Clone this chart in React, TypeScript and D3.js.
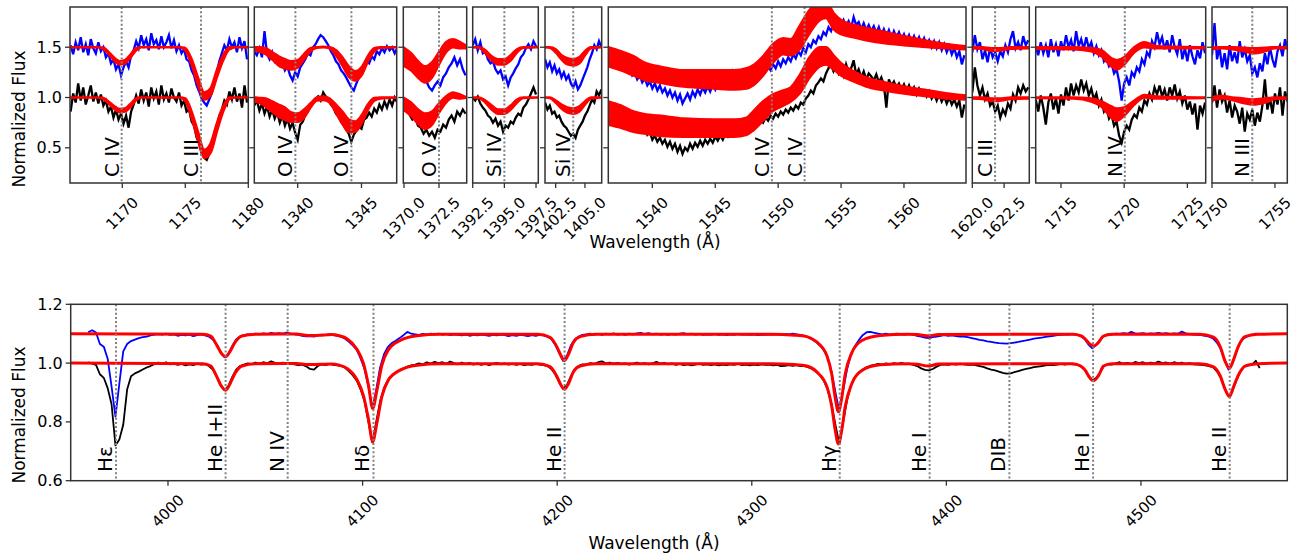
import React from 'react';
import * as d3 from 'd3';

// ================= DATA =================
const TOP_STEP = 0.2;

// Panel 1 : C IV / C III
const p1Start = 1165.9;
const p1Black = [0.86,1.04,0.95,1.14,0.97,1.10,0.93,1.02,1.12,0.96, 1.05,0.94,1.03,0.92,0.97,0.86,0.91,0.80,0.88,0.78, 0.84,0.74,0.82,0.70,0.86,0.93,1.02,0.94,1.08,0.97, 1.05,0.91,1.10,0.99,1.06,0.93,1.12,0.98,1.04,0.95, 1.09,1.00,0.96,1.05,0.92,0.97,0.86,0.88,0.76,0.72, 0.60,0.55,0.45,0.40,0.38,0.44,0.50,0.62,0.70,0.82, 0.88,0.97,0.93,1.06,0.98,1.10,0.96,1.04,0.90,1.12, 0.95];
const p1Blue = [1.52,1.43,1.55,1.47,1.60,1.45,1.53,1.42,1.58,1.49, 1.44,1.55,1.46,1.50,1.40,1.44,1.34,1.38,1.28,1.33, 1.22,1.30,1.36,1.30,1.42,1.47,1.56,1.49,1.62,1.52, 1.58,1.47,1.64,1.53,1.57,1.48,1.61,1.50,1.55,1.62, 1.49,1.57,1.46,1.52,1.44,1.48,1.38,1.36,1.27,1.22, 1.12,1.06,0.99,0.95,0.92,0.98,1.04,1.15,1.25,1.36, 1.44,1.52,1.47,1.58,1.50,1.55,1.45,1.60,1.49,1.56, 1.38];
const p1RedLam = [1165.85,1168.0,1168.5,1169.0,1169.5,1169.8,1170.2,1170.6,1171.1,1171.5,1174.6,1175.0,1175.5,1176.0,1176.5,1177.0,1177.5,1178.0,1178.5,1179.0,1180.0];
const p1RedBlackLo = [1.0,1.0,0.985,0.93,0.875,0.855,0.86,0.90,0.975,1.0,1.0,0.965,0.80,0.58,0.40,0.45,0.66,0.86,0.985,1.0,1.0];
const p1RedBlackHi = [1.0,1.0,0.995,0.95,0.90,0.885,0.89,0.93,0.99,1.0,1.0,0.99,0.86,0.66,0.48,0.54,0.74,0.91,1.0,1.0,1.0];
const p1RedBlueLo = [1.5,1.5,1.485,1.42,1.35,1.33,1.34,1.39,1.47,1.5,1.5,1.47,1.33,1.13,0.98,1.02,1.20,1.37,1.48,1.5,1.5];
const p1RedBlueHi = [1.5,1.5,1.495,1.44,1.38,1.36,1.37,1.42,1.49,1.5,1.5,1.49,1.38,1.20,1.05,1.09,1.27,1.42,1.5,1.5,1.5];
const p1LineLam = [1169.95, 1176.25];
const p1LineLab = ['C IV', 'C III'];
const p1Ticks = [1170, 1175, 1180];

// Panel 2 : O IV
const p2Start = 1336.6;
const p2Black = [0.92,0.97,0.87,0.94,0.84,0.91,0.81,0.88,0.79,0.85, 0.75,0.82,0.72,0.79,0.69,0.75,0.65,0.58,0.73,0.76, 0.83,0.86,0.91,0.94,0.98,1.01,0.97,1.05,1.01,0.98, 0.93,0.90,0.84,0.81,0.76,0.73,0.68,0.64,0.56,0.63, 0.67,0.71,0.69,0.78,0.80,0.85,0.81,0.89,0.85,0.93, 0.88,0.96,0.90,0.98,0.92,1.00,0.95];
const p2Blue = [1.46,1.42,1.49,1.40,1.66,1.43,1.38,1.45,1.36,1.40, 1.32,1.35,1.27,1.31,1.22,1.17,1.25,1.21,1.30,1.34, 1.38,1.44,1.42,1.50,1.53,1.58,1.62,1.60,1.56,1.52, 1.46,1.42,1.36,1.33,1.27,1.24,1.20,1.15,1.10,1.07, 1.14,1.20,1.25,1.30,1.36,1.34,1.41,1.38,1.46,1.43, 1.49,1.45,1.51,1.47,1.50,1.44,1.49];
const p2RedLam = [1336.6,1337.0,1337.5,1338.0,1338.5,1339.0,1339.5,1340.0,1340.5,1341.0,1341.5,1342.0,1342.5,1343.0,1343.5,1344.0,1344.5,1345.0,1345.5,1346.0,1346.5,1347.8];
const p2RedBlackLo = [0.96,0.95,0.91,0.86,0.81,0.78,0.76,0.76,0.80,0.90,0.97,0.975,0.95,0.85,0.74,0.66,0.66,0.74,0.88,0.97,0.99,1.0];
const p2RedBlackHi = [1.0,0.995,0.99,0.96,0.93,0.90,0.85,0.84,0.88,0.94,1.0,1.01,0.99,0.93,0.86,0.78,0.76,0.82,0.93,0.995,1.0,1.0];
const p2RedBlueLo = [1.47,1.46,1.43,1.38,1.32,1.29,1.28,1.30,1.38,1.46,1.495,1.5,1.49,1.42,1.32,1.21,1.17,1.22,1.36,1.46,1.495,1.5];
const p2RedBlueHi = [1.5,1.5,1.49,1.45,1.41,1.38,1.36,1.37,1.43,1.49,1.5,1.505,1.5,1.47,1.40,1.31,1.26,1.30,1.41,1.49,1.5,1.5];
const p2LineLam = [1339.82, 1344.21];
const p2LineLab = ['O IV', 'O IV'];
const p2Ticks = [1340, 1345];

// Panel 3 : O V
const p3Start = 1370.0;
const p3Black = [0.92,0.86,0.83,0.78,0.80,0.72,0.70,0.64,0.68,0.62,0.66,0.60,0.68,0.66,0.73,0.70,0.78,0.82,0.76,0.86,0.82,0.88,0.84];
const p3Blue = [1.37,1.32,1.34,1.28,1.30,1.25,1.27,1.20,1.16,1.10,1.07,1.12,1.16,1.12,1.20,1.24,1.30,1.34,1.40,1.32,1.38,1.28,1.22];
const p3RedLam = [1369.95,1370.5,1371.0,1371.5,1372.0,1372.5,1373.0,1373.5,1374.0,1374.48];
const p3RedBlackLo = [0.88,0.82,0.74,0.69,0.73,0.85,0.95,1.0,0.99,1.0];
const p3RedBlackHi = [1.0,0.95,0.88,0.84,0.86,0.94,1.01,1.05,1.03,1.0];
const p3RedBlueLo = [1.32,1.27,1.20,1.15,1.20,1.33,1.45,1.50,1.49,1.49];
const p3RedBlueHi = [1.50,1.44,1.36,1.31,1.35,1.45,1.55,1.58,1.55,1.51];
const p3LineLam = [1372.5];
const p3LineLab = ['O V'];
const p3Ticks = [1370.0, 1372.5];

// Panel 4 : Si IV 1394
const p4Start = 1392.5;
const p4Black = [1.0,0.97,1.01,0.94,0.90,0.87,0.82,0.80,0.75,0.79,0.72,0.76,0.66,0.72,0.70,0.76,0.74,0.80,0.84,0.82,0.90,0.93,0.98,1.04,1.10,1.03];
const p4Blue = [1.52,1.58,1.47,1.55,1.44,1.46,1.38,1.34,1.36,1.28,1.24,1.27,1.18,1.21,1.12,1.20,1.24,1.29,1.33,1.40,1.43,1.49,1.53,1.48,1.56,1.51];
const p4RedLam = [1392.5,1393.0,1393.5,1394.0,1394.5,1395.0,1395.5,1396.0,1396.5,1397.68];
const p4RedBlackLo = [1.0,0.995,0.95,0.88,0.84,0.84,0.88,0.95,0.995,1.0];
const p4RedBlackHi = [1.0,1.0,0.97,0.92,0.88,0.88,0.92,0.98,1.0,1.0];
const p4RedBlueLo = [1.5,1.495,1.44,1.37,1.33,1.33,1.37,1.45,1.495,1.5];
const p4RedBlueHi = [1.5,1.5,1.47,1.41,1.38,1.38,1.42,1.48,1.5,1.5];
const p4LineLam = [1395.0];
const p4LineLab = ['Si IV'];
const p4Ticks = [1392.5, 1395.0, 1397.5];

// Panel 5 : Si IV 1403
const p5Start = 1401.6;
const p5Black = [0.95,0.88,0.92,0.84,0.86,0.80,0.82,0.76,0.72,0.70,0.66,0.62,0.64,0.60,0.68,0.72,0.76,0.82,0.86,0.92,0.98,0.95,1.06,1.02,1.08];
const p5Blue = [1.38,1.30,1.35,1.26,1.32,1.24,1.28,1.20,1.25,1.18,1.22,1.14,1.10,1.16,1.08,1.12,1.18,1.24,1.30,1.38,1.44,1.52,1.48,1.56,1.50];
const p5RedLam = [1401.59,1402.0,1402.5,1403.0,1403.5,1404.0,1404.5,1405.0,1405.5,1406.43];
const p5RedBlackLo = [1.0,0.995,0.95,0.89,0.85,0.84,0.86,0.93,0.99,1.0];
const p5RedBlackHi = [1.0,1.0,0.97,0.93,0.90,0.89,0.91,0.96,1.0,1.0];
const p5RedBlueLo = [1.5,1.495,1.45,1.38,1.33,1.32,1.34,1.42,1.49,1.5];
const p5RedBlueHi = [1.5,1.5,1.48,1.42,1.39,1.38,1.40,1.46,1.5,1.5];
const p5LineLam = [1404.0];
const p5LineLab = ['Si IV'];
const p5Ticks = [1402.5, 1405.0];

// Panel 6 : C IV doublet
const p6Start = 1536.6;
const p6Black = [0.95,0.89,0.93,0.86,0.90, 0.82,0.86,0.79,0.83,0.76, 0.78,0.71,0.74,0.67,0.70, 0.63,0.66,0.58,0.62,0.56, 0.60,0.54,0.58,0.51,0.56, 0.49,0.54,0.46,0.52,0.44, 0.50,0.47,0.54,0.49,0.55, 0.51,0.57,0.52,0.58,0.54, 0.59,0.55,0.61,0.57,0.62, 0.58,0.64,0.61,0.66,0.63, 0.69,0.65,0.71,0.67,0.72, 0.69,0.74,0.71,0.76,0.73, 0.78,0.75,0.80,0.77,0.82, 0.79,0.84,0.81,0.86,0.83, 0.88,0.85,0.90,0.87,0.92, 0.89,0.95,0.93,0.99,1.02, 1.07,1.04,1.12,1.15,1.19, 1.16,1.24,1.29,1.33,1.26, 1.31,1.24,1.30,1.22,1.33, 1.25,1.29,1.37,1.23,1.28, 1.20,1.26,1.18,1.24,1.21, 1.17,1.23,1.15,1.20,1.13, 0.90,1.18,1.12,1.16,1.10, 1.14,1.08,1.13,1.06,1.12, 1.05,1.10,1.03,1.09,1.04, 1.07,1.01,1.06,0.99,1.04, 0.97,1.03,0.96,1.01,0.94, 1.00,0.93,0.98,0.91,0.97, 0.80,0.93];
const p6Blue = [1.42,1.38,1.41,1.35,1.37, 1.31,1.34,1.27,1.29,1.22, 1.25,1.18,1.22,1.15,1.19, 1.12,1.16,1.09,1.14,1.07, 1.12,1.05,1.09,1.02,1.07, 1.00,1.05,0.97,1.03,0.94, 0.99,1.04,0.98,1.06,1.01, 1.08,1.03,1.10,1.05,1.11, 1.06,1.13,1.08,1.15,1.10, 1.16,1.12,1.19,1.14,1.25, 1.17,1.22,1.18,1.24,1.19, 1.25,1.21,1.27,1.23,1.28, 1.24,1.30,1.26,1.31,1.27, 1.33,1.29,1.36,1.31,1.38, 1.34,1.40,1.36,1.43,1.39, 1.46,1.42,1.49,1.45,1.53, 1.50,1.57,1.54,1.61,1.58, 1.65,1.62,1.70,1.66,1.74, 1.68,1.75,1.70,1.77,1.71, 1.76,1.69,1.80,1.72,1.75, 1.68,1.74,1.67,1.72,1.66, 1.71,1.64,1.70,1.62,1.68, 1.61,1.67,1.59,1.66,1.60, 1.65,1.58,1.63,1.56,1.62, 1.55,1.61,1.54,1.60,1.53, 1.59,1.52,1.57,1.50,1.56, 1.49,1.55,1.47,1.53,1.45, 1.51,1.43,1.49,1.40,1.46, 1.33,1.42];
const p6RedLam = [1536.5,1537.5,1538.5,1539.5,1540.5,1542.5,1545.0,1546.5,1547.5,1548.0,1548.8,1549.6,1550.4,1551.0,1551.7,1552.5,1553.3,1553.8,1554.4,1555.0,1556.0,1557.0,1558.5,1560.0,1562.0,1563.5,1564.93];
const p6RedBlackLo = [0.73,0.70,0.66,0.64,0.62,0.61,0.61,0.61,0.63,0.67,0.77,0.87,0.92,0.96,1.04,1.20,1.31,1.33,1.28,1.22,1.16,1.11,1.07,1.04,1.01,0.99,0.98];
const p6RedBlackHi = [0.96,0.92,0.86,0.83,0.82,0.79,0.78,0.78,0.80,0.86,0.96,1.03,1.07,1.10,1.22,1.40,1.50,1.50,1.42,1.34,1.26,1.20,1.15,1.11,1.07,1.04,1.02];
const p6RedBlueLo = [1.31,1.27,1.22,1.17,1.15,1.11,1.09,1.08,1.09,1.12,1.22,1.35,1.43,1.42,1.48,1.64,1.77,1.79,1.68,1.63,1.60,1.57,1.54,1.52,1.50,1.49,1.48];
const p6RedBlueHi = [1.50,1.46,1.41,1.34,1.31,1.27,1.27,1.27,1.29,1.32,1.41,1.53,1.59,1.58,1.71,1.87,1.96,1.96,1.84,1.77,1.72,1.69,1.65,1.61,1.56,1.53,1.51];
const p6LineLam = [1549.5, 1552.1];
const p6LineLab = ['C IV', 'C IV'];
const p6Ticks = [1540, 1545, 1550, 1555, 1560];

// Panel 7 : C III 1620
const p7Start = 1620.0;
const p7Black = [1.05,1.30,1.12,1.02,1.10,0.98,1.04,0.92,0.96,0.86,0.92,0.80,0.88,0.83,0.94,0.89,1.03,0.97,1.10,1.04,1.12,1.06,1.10];
const p7Blue = [1.45,1.62,1.48,1.55,1.38,1.47,1.35,1.50,1.40,1.45,1.36,1.46,1.41,1.52,1.45,1.58,1.66,1.49,1.55,1.47,1.61,1.52,1.57];
const p7RedLam = [1620.0,1620.8,1621.5,1622.3,1623.0,1624.48];
const p7RedBlackLo = [0.99,0.985,0.965,0.97,0.985,0.99];
const p7RedBlackHi = [1.0,1.0,0.99,0.99,1.0,1.0];
const p7RedBlueLo = [1.49,1.485,1.465,1.47,1.485,1.49];
const p7RedBlueHi = [1.5,1.5,1.49,1.49,1.5,1.5];
const p7LineLam = [1621.79];
const p7LineLab = ['C III'];
const p7Ticks = [1620.0, 1622.5];

// Panel 8 : N IV
const p8Start = 1713.0;
const p8Black = [0.98,0.86,1.02,0.90,0.73, 0.95,1.04,0.88,0.99,0.84, 1.03,0.92,1.10,0.97,1.14, 1.02,1.12,1.05,1.18,1.07, 1.14,1.02,1.09,0.98,1.04, 0.92,0.98,0.86,0.90,0.79, 0.83,0.72,0.76,0.62,0.55, 0.66,0.72,0.68,0.78,0.83, 0.80,0.90,0.86,0.97,0.93, 1.04,0.98,1.10,1.03,1.12, 1.01,1.08,0.97,1.10,1.02, 1.13,0.99,1.06,0.94,1.02, 0.88,0.96,0.83,0.94,0.68, 0.92,0.84,0.95];
const p8Blue = [1.50,1.42,1.55,1.44,1.52, 1.40,1.58,1.45,1.53,1.41, 1.56,1.47,1.62,1.50,1.57, 1.46,1.66,1.51,1.58,1.48, 1.60,1.49,1.55,1.44,1.51, 1.42,1.47,1.36,1.40,1.31, 1.34,1.24,1.28,1.16,0.97, 1.14,1.20,1.12,1.25,1.21, 1.30,1.26,1.38,1.33,1.45, 1.41,1.56,1.50,1.65,1.53, 1.60,1.48,1.57,1.45,1.62, 1.50,1.43,1.58,1.38,1.49, 1.36,1.52,1.41,1.33,1.47, 1.39,1.55,1.44];
const p8RedLam = [1713.0,1716.0,1717.4,1718.2,1719.0,1719.4,1720.0,1720.8,1721.6,1722.6,1726.45];
const p8RedBlackLo = [0.995,0.99,0.96,0.91,0.80,0.77,0.82,0.93,1.0,0.99,0.995];
const p8RedBlackHi = [1.0,1.0,0.99,0.96,0.91,0.89,0.90,0.97,1.025,1.01,1.0];
const p8RedBlueLo = [1.485,1.48,1.46,1.41,1.31,1.28,1.33,1.45,1.50,1.49,1.49];
const p8RedBlueHi = [1.5,1.5,1.49,1.47,1.39,1.37,1.40,1.50,1.55,1.51,1.5];
const p8LineLam = [1720.05];
const p8LineLab = ['N IV'];
const p8Ticks = [1715, 1720, 1725];

// Panel 9 : N III
const p9Start = 1750.0;
const p9Black = [0.95,1.12,0.90,1.08,0.96,1.02,0.85,0.97,0.80,0.92,0.86,0.74,0.90,0.66,0.84,0.78,0.88,0.72,0.85,0.76,0.92,1.18,0.88,1.00,0.84,1.04,0.93,1.10,0.82,1.06,0.96];
const p9Blue = [1.42,1.74,1.38,1.50,1.30,1.44,1.28,1.52,1.36,1.45,1.34,1.56,1.40,1.48,1.36,1.42,1.24,1.30,1.20,1.34,1.26,1.44,1.33,1.50,1.38,1.30,1.46,1.52,1.41,1.58,1.48];
const p9RedLam = [1750.0,1750.8,1751.6,1752.5,1753.3,1754.2,1755.0,1755.98];
const p9RedBlackLo = [0.97,0.99,0.975,0.945,0.93,0.95,0.985,0.99];
const p9RedBlackHi = [1.0,1.015,1.0,0.99,0.98,0.99,1.0,1.0];
const p9RedBlueLo = [1.48,1.49,1.48,1.46,1.44,1.46,1.49,1.49];
const p9RedBlueHi = [1.5,1.5,1.5,1.495,1.49,1.495,1.5,1.5];
const p9LineLam = [1753.2];
const p9LineLab = ['N III'];
const p9Ticks = [1750, 1755];

const topYTicks = [0.5, 1.0, 1.5];

// Optical panel
const optStart = 3959;
const optStep = 2;
const optBlack = [
  1.003,0.998,0.994,0.962,0.95,0.915,0.86,0.72,0.74,0.79,
  0.91,0.955,0.965,0.971,0.978,0.985,0.99,0.996,1.002,0.997,
  1.003,0.996,0.999,0.994,0.997,0.992,0.996,0.993,0.998,0.995,
  0.996,0.99,0.978,0.955,0.925,0.908,0.922,0.952,0.978,0.99,
  0.995,0.999,0.997,1.002,0.998,1.003,0.999,1.006,1.001,0.998,
  1.002,0.997,1.0,0.996,0.993,0.995,0.989,0.98,0.978,0.99,
  0.996,0.993,0.997,0.994,0.992,0.99,0.984,0.972,0.958,0.94,
  0.91,0.87,0.80,0.73,0.80,0.87,0.915,0.943,0.958,0.968,
  0.976,0.982,0.988,0.992,0.995,0.999,0.996,1.003,0.998,1.004,
  1.0,1.003,0.998,1.005,1.0,0.996,1.002,0.997,1.001,0.995,
  0.999,0.994,0.998,0.993,0.997,1.001,0.996,0.999,0.995,0.998,
  0.994,0.997,0.993,0.996,0.994,0.997,0.995,0.993,0.99,0.98,
  0.962,0.935,0.912,0.925,0.955,0.978,0.99,0.996,0.995,1.0,
  0.997,1.003,1.006,0.999,1.002,0.998,1.001,0.997,0.999,0.995,
  0.998,1.002,0.997,1.0,0.996,0.999,1.004,0.998,1.001,0.996,
  0.999,0.994,0.997,0.993,0.996,0.992,0.995,0.998,0.994,0.996,
  0.993,0.996,0.992,0.995,0.993,0.996,0.994,0.997,0.993,0.995,
  0.992,0.995,0.993,0.996,0.994,0.995,0.992,0.994,0.99,0.991,
  0.993,0.991,0.993,0.99,0.99,0.986,0.98,0.972,0.958,0.94,
  0.91,0.86,0.79,0.725,0.80,0.875,0.925,0.952,0.968,0.978,
  0.986,0.991,0.994,0.997,0.995,0.999,0.996,1.0,0.997,1.001,
  0.996,0.998,0.994,0.99,0.982,0.977,0.975,0.98,0.988,0.994,
  0.996,0.994,0.997,0.995,0.998,0.996,0.994,0.995,0.993,0.99,
  0.987,0.982,0.978,0.975,0.971,0.967,0.964,0.965,0.969,0.973,
  0.977,0.98,0.983,0.986,0.988,0.99,0.992,0.994,0.993,0.995,
  0.997,0.995,0.998,0.996,0.995,0.99,0.978,0.957,0.94,0.95,
  0.968,0.99,0.996,0.995,0.999,1.003,0.998,1.001,0.997,1.004,
  1.0,1.003,0.998,1.002,0.999,1.005,1.0,1.002,0.998,1.003,
  0.999,1.002,0.997,1.0,0.996,0.995,0.994,0.992,0.99,0.986,
  0.972,0.95,0.915,0.888,0.905,0.94,0.97,0.988,0.995,0.994,
  1.008,0.983];
const optBlue = [
  1.105,1.112,1.104,1.065,1.056,1.015,0.92,0.818,0.93,1.04,
  1.065,1.075,1.08,1.085,1.088,1.09,1.094,1.097,1.099,1.097,
  1.1,1.096,1.098,1.093,1.096,1.094,1.097,1.092,1.095,1.098,
  1.094,1.09,1.08,1.062,1.038,1.02,1.032,1.058,1.08,1.09,
  1.095,1.098,1.097,1.1,1.098,1.101,1.099,1.103,1.1,1.102,
  1.1,1.104,1.1,1.098,1.096,1.093,1.091,1.092,1.09,1.094,
  1.097,1.095,1.098,1.095,1.093,1.09,1.083,1.072,1.06,1.045,
  1.015,0.98,0.92,0.845,0.91,0.985,1.03,1.055,1.068,1.076,
  1.085,1.095,1.106,1.1,1.098,1.096,1.099,1.097,1.1,1.098,
  1.1,1.097,1.099,1.095,1.098,1.096,1.094,1.097,1.093,1.096,
  1.094,1.097,1.095,1.093,1.096,1.094,1.097,1.095,1.092,1.095,
  1.093,1.096,1.094,1.092,1.095,1.093,1.096,1.094,1.09,1.082,
  1.062,1.035,1.008,1.025,1.06,1.08,1.09,1.096,1.098,1.1,
  1.097,1.099,1.096,1.1,1.098,1.101,1.097,1.099,1.096,1.1,
  1.098,1.101,1.103,1.099,1.102,1.098,1.1,1.097,1.099,1.096,
  1.099,1.097,1.1,1.102,1.098,1.1,1.097,1.099,1.096,1.098,
  1.097,1.099,1.096,1.098,1.095,1.098,1.096,1.099,1.097,1.098,
  1.096,1.098,1.095,1.097,1.096,1.098,1.097,1.099,1.097,1.099,
  1.098,1.1,1.098,1.096,1.093,1.088,1.08,1.072,1.06,1.045,
  1.02,0.97,0.9,0.835,0.91,0.98,1.03,1.058,1.078,1.095,
  1.105,1.106,1.103,1.1,1.098,1.1,1.097,1.099,1.1,1.098,
  1.097,1.099,1.096,1.093,1.09,1.087,1.085,1.088,1.09,1.093,
  1.095,1.093,1.094,1.092,1.09,1.09,1.088,1.085,1.082,1.079,
  1.077,1.074,1.072,1.07,1.068,1.067,1.066,1.068,1.07,1.072,
  1.075,1.077,1.08,1.083,1.085,1.087,1.089,1.091,1.093,1.095,
  1.096,1.098,1.097,1.099,1.097,1.093,1.082,1.063,1.05,1.062,
  1.08,1.093,1.098,1.097,1.1,1.099,1.102,1.1,1.106,1.101,
  1.1,1.102,1.099,1.101,1.1,1.103,1.1,1.102,1.099,1.101,
  1.1,1.107,1.101,1.099,1.097,1.096,1.095,1.093,1.09,1.084,
  1.07,1.048,1.01,0.978,1.0,1.04,1.07,1.085,1.092,1.096,
  1.1,1.098];
const optRedLam = [3950,4018,4022,4025,4027.6,4029.7,4031.9,4034.4,4038,4045,4066,4072,4078,4084,4088,4092,4097,4100.4,4103,4105.2,4107.3,4109.9,4113.2,4119.3,4128,4140,4190,4196.3,4199.8,4202.2,4203.7,4205.8,4208.3,4211.8,4220,4310,4322,4328.3,4333.4,4338.6,4341.1,4342.8,4344.5,4346.3,4348,4351.4,4356.6,4366,4380,4385,4391,4396,4465,4469,4471.4,4473.5,4475.6,4478.2,4480.7,4485,4530,4537.3,4540.7,4543.3,4545.5,4547.5,4550.1,4553.5,4560,4575.2];
const optRedBlack = [1.0,0.998,0.99,0.955,0.92,0.908,0.93,0.965,0.99,0.998,0.999,0.995,0.996,0.997,0.993,0.982,0.945,0.89,0.81,0.733,0.795,0.886,0.942,0.976,0.993,0.998,0.998,0.988,0.955,0.922,0.911,0.93,0.97,0.99,0.998,0.998,0.995,0.99,0.97,0.92,0.852,0.775,0.725,0.775,0.852,0.93,0.975,0.994,0.998,0.996,0.99,0.997,0.998,0.99,0.975,0.952,0.94,0.957,0.99,0.998,0.998,0.987,0.957,0.91,0.886,0.918,0.96,0.99,0.998,1.0];
const optRedBlue = [1.1,1.098,1.092,1.062,1.032,1.022,1.04,1.07,1.092,1.098,1.099,1.094,1.095,1.097,1.093,1.083,1.048,1.0,0.925,0.846,0.905,0.992,1.045,1.077,1.093,1.098,1.098,1.088,1.056,1.022,1.008,1.03,1.07,1.09,1.098,1.098,1.095,1.09,1.072,1.025,0.962,0.885,0.835,0.885,0.962,1.035,1.077,1.094,1.098,1.097,1.093,1.097,1.098,1.093,1.082,1.066,1.058,1.07,1.092,1.098,1.098,1.088,1.056,1.005,0.982,1.01,1.058,1.09,1.098,1.1];
const optLineLam = [3973.3, 4029.6, 4061.5, 4105.6, 4203.8, 4345.2, 4391.4, 4432.4, 4475.4, 4545.6];
const optLineLab = ['Hε', 'He I+II', 'N IV', 'Hδ', 'He II', 'Hγ', 'He I', 'DIB', 'He I', 'He II'];
const optXTicks = [4000, 4100, 4200, 4300, 4400, 4500];
const optYTicks = [0.6, 0.8, 1.0, 1.2];

// ================= LAYOUT =================
const FONT = 'DejaVu Sans';
const TOP_Y0 = 7, TOP_Y1 = 183;
const TOP_YD: [number, number] = [0.15, 1.9];
const BOT_Y0 = 304.3, BOT_Y1 = 480.7;
const BOT_YD: [number, number] = [0.6, 1.2];
const BOT_X0 = 70.7, BOT_X1 = 1287.3;
const BOT_XD: [number, number] = [3950, 4575.2];

const topPanels = [
  { x0: 70, x1: 248.3, lam: [1165.85, 1180.0], dec: 0, start: p1Start, black: p1Black, blue: p1Blue, redLam: p1RedLam, rbl: p1RedBlackLo, rbh: p1RedBlackHi, rul: p1RedBlueLo, ruh: p1RedBlueHi, lines: p1LineLam, labs: p1LineLab, ticks: p1Ticks },
  { x0: 254.3, x1: 396.7, lam: [1336.6, 1347.76], dec: 0, start: p2Start, black: p2Black, blue: p2Blue, redLam: p2RedLam, rbl: p2RedBlackLo, rbh: p2RedBlackHi, rul: p2RedBlueLo, ruh: p2RedBlueHi, lines: p2LineLam, labs: p2LineLab, ticks: p2Ticks },
  { x0: 403.3, x1: 466.7, lam: [1369.95, 1374.48], dec: 1, start: p3Start, black: p3Black, blue: p3Blue, redLam: p3RedLam, rbl: p3RedBlackLo, rbh: p3RedBlackHi, rul: p3RedBlueLo, ruh: p3RedBlueHi, lines: p3LineLam, labs: p3LineLab, ticks: p3Ticks },
  { x0: 472.7, x1: 538.3, lam: [1392.5, 1397.68], dec: 1, start: p4Start, black: p4Black, blue: p4Blue, redLam: p4RedLam, rbl: p4RedBlackLo, rbh: p4RedBlackHi, rul: p4RedBlueLo, ruh: p4RedBlueHi, lines: p4LineLam, labs: p4LineLab, ticks: p4Ticks },
  { x0: 545, x1: 601.7, lam: [1401.59, 1406.43], dec: 1, start: p5Start, black: p5Black, blue: p5Blue, redLam: p5RedLam, rbl: p5RedBlackLo, rbh: p5RedBlackHi, rul: p5RedBlueLo, ruh: p5RedBlueHi, lines: p5LineLam, labs: p5LineLab, ticks: p5Ticks },
  { x0: 608.3, x1: 966, lam: [1536.5, 1564.93], dec: 0, start: p6Start, black: p6Black, blue: p6Blue, redLam: p6RedLam, rbl: p6RedBlackLo, rbh: p6RedBlackHi, rul: p6RedBlueLo, ruh: p6RedBlueHi, lines: p6LineLam, labs: p6LineLab, ticks: p6Ticks },
  { x0: 972.3, x1: 1029.3, lam: [1620.0, 1624.48], dec: 1, start: p7Start, black: p7Black, blue: p7Blue, redLam: p7RedLam, rbl: p7RedBlackLo, rbh: p7RedBlackHi, rul: p7RedBlueLo, ruh: p7RedBlueHi, lines: p7LineLam, labs: p7LineLab, ticks: p7Ticks },
  { x0: 1035.7, x1: 1205.7, lam: [1713.0, 1726.45], dec: 0, start: p8Start, black: p8Black, blue: p8Blue, redLam: p8RedLam, rbl: p8RedBlackLo, rbh: p8RedBlackHi, rul: p8RedBlueLo, ruh: p8RedBlueHi, lines: p8LineLam, labs: p8LineLab, ticks: p8Ticks },
  { x0: 1212, x1: 1287.3, lam: [1750.0, 1755.98], dec: 0, start: p9Start, black: p9Black, blue: p9Blue, redLam: p9RedLam, rbl: p9RedBlackLo, rbh: p9RedBlackHi, rul: p9RedBlueLo, ruh: p9RedBlueHi, lines: p9LineLam, labs: p9LineLab, ticks: p9Ticks },
];

const XTICK_FS = 15;
const YTICK_FS = 16;
const LABEL_FS = 17;
const LINE_FS = 20;
const SPINE = '#333';

function textWidth(s: string, fs: number) {
  let w = 0;
  for (const c of s) w += c === '.' ? 0.318 : /[0-9]/.test(c) ? 0.636 : 0.6;
  return w * fs;
}

function RotTick({ x, axisY, label }: { x: number; axisY: number; label: string }) {
  const w = textWidth(label, XTICK_FS);
  const cy = axisY + 13 + (w + 0.73 * XTICK_FS) / (2 * Math.SQRT2);
  return (
    <text x={x} y={cy} textAnchor="middle" dominantBaseline="central" fontSize={XTICK_FS}
      fontFamily={FONT} fill="#000" transform={`rotate(-45 ${x} ${cy})`}>{label}</text>
  );
}

function TopPanel({ p, idx }: { p: any; idx: number }) {
  const x = d3.scaleLinear().domain(p.lam).range([p.x0, p.x1]);
  const y = d3.scaleLinear().domain(TOP_YD).range([TOP_Y1, TOP_Y0]);
  const obs = (arr: number[]) =>
    d3.line<number>().x((_, i) => x(p.start + i * TOP_STEP)).y((v) => y(v))(arr) || '';
  const band = (lo: number[], hi: number[]) =>
    d3.area<number>().curve(d3.curveMonotoneX).x((l) => x(l)).y0((_, i) => y(lo[i])).y1((_, i) => y(hi[i]))(p.redLam) || '';
  const id = `clipTop${idx}`;
  return (
    <g>
      <defs>
        <clipPath id={id}><rect x={p.x0} y={TOP_Y0} width={p.x1 - p.x0} height={TOP_Y1 - TOP_Y0} /></clipPath>
      </defs>
      <g clipPath={`url(#${id})`}>
        <path d={obs(p.black)} fill="none" stroke="#000" strokeWidth={2.3} strokeLinejoin="miter" />
        <path d={obs(p.blue)} fill="none" stroke="#0000ff" strokeWidth={2.3} strokeLinejoin="miter" />
        <path d={band(p.rbl, p.rbh)} fill="#ff0000" stroke="#ff0000" strokeWidth={2.6} strokeLinejoin="round" />
        <path d={band(p.rul, p.ruh)} fill="#ff0000" stroke="#ff0000" strokeWidth={2.6} strokeLinejoin="round" />
        {p.lines.map((l: number, i: number) => (
          <line key={i} x1={x(l)} x2={x(l)} y1={TOP_Y0} y2={TOP_Y1} stroke="#808080" strokeWidth={2} strokeDasharray="2 2.2" />
        ))}
      </g>
      {p.lines.map((l: number, i: number) => (
        <text key={i} x={x(l) - 3} y={177} fontSize={LINE_FS} fontFamily={FONT} fill="#000"
          transform={`rotate(-90 ${x(l) - 3} 177)`}>{p.labs[i]}</text>
      ))}
      <rect x={p.x0} y={TOP_Y0} width={p.x1 - p.x0} height={TOP_Y1 - TOP_Y0} fill="none" stroke={SPINE} strokeWidth={1.5} />
      {topYTicks.map((t) => (
        <g key={t}>
          <line x1={p.x0 - 5} x2={p.x0} y1={y(t)} y2={y(t)} stroke={SPINE} strokeWidth={1.3} />
          {idx === 0 && (
            <text x={p.x0 - 8} y={y(t)} textAnchor="end" dominantBaseline="central" fontSize={YTICK_FS} fontFamily={FONT}>{t.toFixed(1)}</text>
          )}
        </g>
      ))}
      {p.ticks.map((t: number) => (
        <g key={t}>
          <line x1={x(t)} x2={x(t)} y1={TOP_Y1} y2={TOP_Y1 + 5} stroke={SPINE} strokeWidth={1.3} />
          <RotTick x={x(t)} axisY={TOP_Y1} label={t.toFixed(p.dec)} />
        </g>
      ))}
    </g>
  );
}

function BottomPanel() {
  const x = d3.scaleLinear().domain(BOT_XD).range([BOT_X0, BOT_X1]);
  const y = d3.scaleLinear().domain(BOT_YD).range([BOT_Y1, BOT_Y0]);
  const obs = (arr: number[]) =>
    d3.line<number>().x((_, i) => x(optStart + i * optStep)).y((v) => y(v))(arr) || '';
  const model = (arr: number[]) =>
    d3.line<number>().curve(d3.curveMonotoneX).x((l) => x(l)).y((_, i) => y(arr[i]))(optRedLam) || '';
  return (
    <g>
      <defs>
        <clipPath id="clipBot"><rect x={BOT_X0} y={BOT_Y0} width={BOT_X1 - BOT_X0} height={BOT_Y1 - BOT_Y0} /></clipPath>
      </defs>
      <g clipPath="url(#clipBot)">
        <path d={obs(optBlack)} fill="none" stroke="#000" strokeWidth={1.8} strokeLinejoin="round" />
        <path d={obs(optBlue)} fill="none" stroke="#0000ff" strokeWidth={1.8} strokeLinejoin="round" />
        <path d={model(optRedBlack)} fill="none" stroke="#ff0000" strokeWidth={3} strokeLinejoin="round" />
        <path d={model(optRedBlue)} fill="none" stroke="#ff0000" strokeWidth={3} strokeLinejoin="round" />
        {optLineLam.map((l, i) => (
          <line key={i} x1={x(l)} x2={x(l)} y1={BOT_Y0} y2={BOT_Y1} stroke="#808080" strokeWidth={2} strokeDasharray="2 2.2" />
        ))}
      </g>
      {optLineLam.map((l, i) => (
        <text key={i} x={x(l) - 4} y={472} fontSize={LINE_FS} fontFamily={FONT} fill="#000"
          transform={`rotate(-90 ${x(l) - 4} 472)`}>{optLineLab[i]}</text>
      ))}
      <rect x={BOT_X0} y={BOT_Y0} width={BOT_X1 - BOT_X0} height={BOT_Y1 - BOT_Y0} fill="none" stroke={SPINE} strokeWidth={1.5} />
      {optYTicks.map((t) => (
        <g key={t}>
          <line x1={BOT_X0 - 5} x2={BOT_X0} y1={y(t)} y2={y(t)} stroke={SPINE} strokeWidth={1.3} />
          <text x={BOT_X0 - 8} y={y(t)} textAnchor="end" dominantBaseline="central" fontSize={YTICK_FS} fontFamily={FONT}>{t.toFixed(1)}</text>
        </g>
      ))}
      {optXTicks.map((t) => (
        <g key={t}>
          <line x1={x(t)} x2={x(t)} y1={BOT_Y1} y2={BOT_Y1 + 5} stroke={SPINE} strokeWidth={1.3} />
          <RotTick x={x(t)} axisY={BOT_Y1} label={String(t)} />
        </g>
      ))}
    </g>
  );
}

export default function App() {
  return (
    <div style={{ position: 'absolute', left: 0, top: 0 }}>
      <svg width={1307} height={556} viewBox="0 0 1307 556" style={{ display: 'block', background: '#fff' }}>
        <rect x={0} y={0} width={1307} height={556} fill="#fff" />
        {topPanels.map((p, i) => <TopPanel key={i} p={p} idx={i} />)}
        <BottomPanel />
        <text x={24.5} y={119} textAnchor="middle" fontSize={LABEL_FS} fontFamily={FONT} transform="rotate(-90 24.5 119)">Normalized Flux</text>
        <text x={24.5} y={415} textAnchor="middle" fontSize={LABEL_FS} fontFamily={FONT} transform="rotate(-90 24.5 415)">Normalized Flux</text>
        <text x={655} y={248} textAnchor="middle" fontSize={LABEL_FS} fontFamily={FONT}>Wavelength (Å)</text>
        <text x={654} y={549} textAnchor="middle" fontSize={LABEL_FS} fontFamily={FONT}>Wavelength (Å)</text>
      </svg>
    </div>
  );
}
